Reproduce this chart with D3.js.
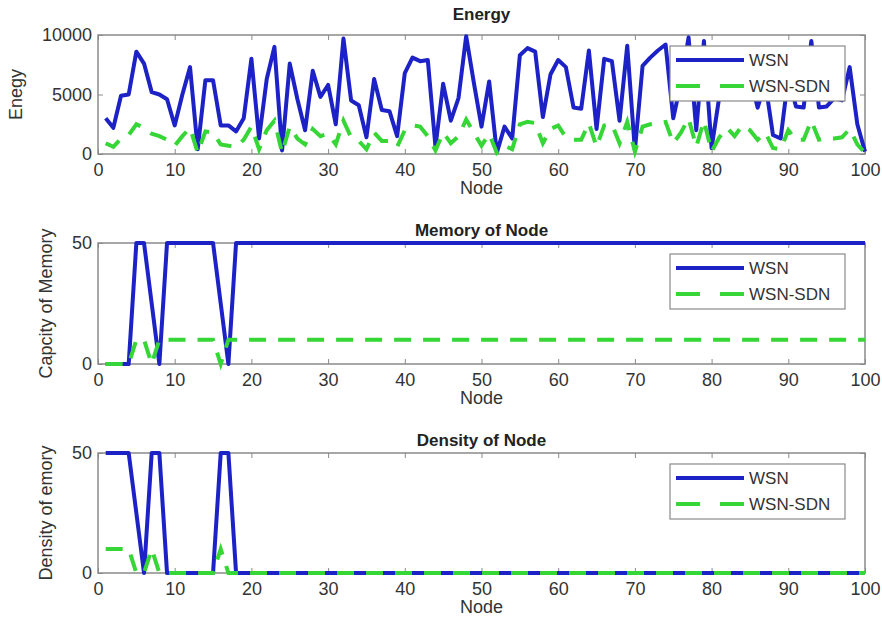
<!DOCTYPE html>
<html>
<head>
<meta charset="utf-8">
<script src="https://cdn.jsdelivr.net/npm/d3@7"></script>
<style>
  body { margin: 0; background: #fff; }
  text { font-family: "Liberation Sans", Arial, sans-serif; }
</style>
</head>
<body>
<svg id="chart"></svg>
<script>
// node ids on the x axis
var nodes = d3.range(1, 101);
var xTicks = [0, 10, 20, 30, 40, 50, 60, 70, 80, 90, 100];
var seriesNames = ["WSN", "WSN-SDN"];

var energyTicks = [0, 5000, 10000];
var memoryTicks = [0, 50];
var densityTicks = [0, 50];

var energyWSN = [3000, 2200, 4900, 5000, 8600, 7600, 5200, 5000, 4600, 2400,
                 5000, 7300, 400, 6200, 6200, 2400, 2400, 1900, 3000, 8000,
                 1300, 6300, 9000, 300, 7600, 4600, 2000, 7000, 4800, 5800,
                 2500, 9700, 4500, 4100, 1400, 6300, 3700, 3600, 1500, 6800,
                 8100, 7800, 7900, 600, 5900, 2800, 4700, 9900, 6000, 2300,
                 6100, 100, 2300, 1300, 8300, 8900, 8600, 3100, 6700, 7900,
                 7300, 3900, 3800, 8700, 2100, 8000, 7800, 2800, 9100, 300,
                 7400, 8100, 8700, 9200, 3000, 6000, 9800, 2000, 9500, 500,
                 4800, 7500, 5000, 8000, 6500, 3900, 6000, 1600, 1300, 6500,
                 4000, 3900, 9500, 3900, 4000, 4700, 4500, 7300, 2500, 200];

var energySDN = [900, 600, 1300, 1600, 2500, 2200, 1700, 1500, 1200, 700,
                 1500, 2200, 100, 1900, 1800, 800, 700, 600, 1200, 2300,
                 400, 2000, 2800, 100, 2300, 1300, 800, 2100, 1500, 1700,
                 800, 2800, 1400, 1100, 400, 1800, 1100, 1100, 600, 2000,
                 2400, 2300, 1500, 300, 1800, 900, 1500, 2900, 1800, 700,
                 1700, 100, 700, 400, 2500, 2700, 2600, 900, 2100, 2400,
                 1400, 1200, 1200, 2600, 600, 2400, 2500, 900, 2700, 200,
                 2300, 2500, 2600, 2700, 900, 1800, 3000, 600, 2800, 200,
                 1400, 2200, 1500, 2400, 2000, 1200, 1800, 500, 400, 2000,
                 1200, 1200, 2800, 1200, 1300, 1300, 1400, 2100, 800, 100];

var memoryWSN = [0, 0, 0, 0, 50, 50, 25, 0, 50, 50,
                 50, 50, 50, 50, 50, 25, 0, 50, 50, 50,
                 50, 50, 50, 50, 50, 50, 50, 50, 50, 50,
                 50, 50, 50, 50, 50, 50, 50, 50, 50, 50,
                 50, 50, 50, 50, 50, 50, 50, 50, 50, 50,
                 50, 50, 50, 50, 50, 50, 50, 50, 50, 50,
                 50, 50, 50, 50, 50, 50, 50, 50, 50, 50,
                 50, 50, 50, 50, 50, 50, 50, 50, 50, 50,
                 50, 50, 50, 50, 50, 50, 50, 50, 50, 50,
                 50, 50, 50, 50, 50, 50, 50, 50, 50, 50];

var memorySDN = [0, 0, 0, 0, 10, 10, 0, 10, 10, 10,
                 10, 10, 10, 10, 10, 0, 10, 10, 10, 10,
                 10, 10, 10, 10, 10, 10, 10, 10, 10, 10,
                 10, 10, 10, 10, 10, 10, 10, 10, 10, 10,
                 10, 10, 10, 10, 10, 10, 10, 10, 10, 10,
                 10, 10, 10, 10, 10, 10, 10, 10, 10, 10,
                 10, 10, 10, 10, 10, 10, 10, 10, 10, 10,
                 10, 10, 10, 10, 10, 10, 10, 10, 10, 10,
                 10, 10, 10, 10, 10, 10, 10, 10, 10, 10,
                 10, 10, 10, 10, 10, 10, 10, 10, 10, 10];

var densityWSN = [50, 50, 50, 50, 25, 0, 50, 50, 0, 0,
                  0, 0, 0, 0, 0, 50, 50, 0, 0, 0,
                  0, 0, 0, 0, 0, 0, 0, 0, 0, 0,
                  0, 0, 0, 0, 0, 0, 0, 0, 0, 0,
                  0, 0, 0, 0, 0, 0, 0, 0, 0, 0,
                  0, 0, 0, 0, 0, 0, 0, 0, 0, 0,
                  0, 0, 0, 0, 0, 0, 0, 0, 0, 0,
                  0, 0, 0, 0, 0, 0, 0, 0, 0, 0,
                  0, 0, 0, 0, 0, 0, 0, 0, 0, 0,
                  0, 0, 0, 0, 0, 0, 0, 0, 0, 0];

var densitySDN = [10, 10, 10, 10, 0, 0, 10, 0, 0, 0,
                  0, 0, 0, 0, 0, 10, 0, 0, 0, 0,
                  0, 0, 0, 0, 0, 0, 0, 0, 0, 0,
                  0, 0, 0, 0, 0, 0, 0, 0, 0, 0,
                  0, 0, 0, 0, 0, 0, 0, 0, 0, 0,
                  0, 0, 0, 0, 0, 0, 0, 0, 0, 0,
                  0, 0, 0, 0, 0, 0, 0, 0, 0, 0,
                  0, 0, 0, 0, 0, 0, 0, 0, 0, 0,
                  0, 0, 0, 0, 0, 0, 0, 0, 0, 0,
                  0, 0, 0, 0, 0, 0, 0, 0, 0, 0];

let w = 882;
let h = 627;
let left = 98, right = 865;

var blue = "#1c22c6";
var green = "#36d636";

var panels = [
  {title: "Energy", ylabel: "Enegy", wsn: energyWSN, sdn: energySDN, ticks: energyTicks,
   max: 10000, top: 35, bottom: 154, titleY: 20, ylabelX: 22},
  {title: "Memory of Node", ylabel: "Capcity of Memory", wsn: memoryWSN, sdn: memorySDN, ticks: memoryTicks,
   max: 50, top: 243, bottom: 364, titleY: 236, ylabelX: 52},
  {title: "Density of Node", ylabel: "Density of emory", wsn: densityWSN, sdn: densitySDN, ticks: densityTicks,
   max: 50, top: 453, bottom: 573, titleY: 446, ylabelX: 52}
];

var svg = d3.select("#chart")
            .attr("width", w)
            .attr("height", h);

var xS = d3.scaleLinear().domain([0, 100]).range([left, right]);

panels.forEach(function(p) {
  var yS = d3.scaleLinear().domain([0, p.max]).range([p.bottom, p.top]);
  var g = svg.append("g");

  // axes box
  g.append("rect")
   .attr("x", left).attr("y", p.top)
   .attr("width", right - left).attr("height", p.bottom - p.top)
   .attr("fill", "#fff")
   .attr("stroke", "#8a8a8a")
   .attr("stroke-width", 1.5);

  var xb = g.append("g")
   .attr("transform", "translate(0," + p.bottom + ")")
   .call(d3.axisBottom(xS).tickValues(xTicks).tickSizeInner(-5).tickSizeOuter(0).tickPadding(9));
  var xt = g.append("g")
   .attr("transform", "translate(0," + p.top + ")")
   .call(d3.axisTop(xS).tickValues(xTicks).tickSizeInner(-5).tickSizeOuter(0).tickFormat(""));
  var yl = g.append("g")
   .attr("transform", "translate(" + left + ",0)")
   .call(d3.axisLeft(yS).tickValues(p.ticks).tickFormat(d3.format("d")).tickSizeInner(-5).tickSizeOuter(0).tickPadding(6));
  var yr = g.append("g")
   .attr("transform", "translate(" + right + ",0)")
   .call(d3.axisRight(yS).tickValues(p.ticks).tickSizeInner(-5).tickSizeOuter(0).tickFormat(""));

  [xb, xt, yl, yr].forEach(function(a) {
    a.select(".domain").remove();
    a.selectAll("line").attr("stroke", "#8a8a8a");
    a.selectAll("text").attr("font-size", 18).attr("fill", "#333");
  });

  var line = d3.line()
    .x(function(d, i) { return xS(nodes[i]); })
    .y(function(d) { return yS(d); });

  g.append("path")
   .datum(p.wsn)
   .attr("d", line)
   .attr("fill", "none")
   .attr("stroke", blue)
   .attr("stroke-width", 4)
   .attr("stroke-linejoin", "round");

  g.append("path")
   .datum(p.sdn)
   .attr("d", line)
   .attr("fill", "none")
   .attr("stroke", green)
   .attr("stroke-width", 4)
   .attr("stroke-dasharray", "17,12");

  // title
  svg.append("text")
     .attr("x", (left + right) / 2)
     .attr("y", p.titleY)
     .attr("text-anchor", "middle")
     .attr("font-size", 17)
     .attr("font-weight", "bold")
     .attr("fill", "#222")
     .text(p.title);

  // x label
  svg.append("text")
     .attr("x", (left + right) / 2)
     .attr("y", p.bottom + 40)
     .attr("text-anchor", "middle")
     .attr("font-size", 18)
     .attr("fill", "#333")
     .text("Node");

  // y label
  svg.append("text")
     .attr("transform", "translate(" + p.ylabelX + "," + (p.top + p.bottom) / 2 + ") rotate(-90)")
     .attr("text-anchor", "middle")
     .attr("font-size", 18)
     .attr("fill", "#333")
     .text(p.ylabel);

  // legend
  var lg = svg.append("g")
     .attr("transform", "translate(670," + (p.top + 11) + ")");
  lg.append("rect")
    .attr("width", 175).attr("height", 55)
    .attr("fill", "#fff")
    .attr("stroke", "#8a8a8a")
    .attr("stroke-width", 1.2);
  seriesNames.forEach(function(name, i) {
    var yy = 14 + i * 26;
    lg.append("line")
      .attr("x1", 6).attr("x2", 74)
      .attr("y1", yy).attr("y2", yy)
      .attr("stroke", i === 0 ? blue : green)
      .attr("stroke-width", 4)
      .attr("stroke-dasharray", i === 0 ? null : "24,20");
    lg.append("text")
      .attr("x", 79).attr("y", yy + 6)
      .attr("font-size", 17)
      .attr("fill", "#333")
      .text(name);
  });
});
</script>
</body>
</html>
